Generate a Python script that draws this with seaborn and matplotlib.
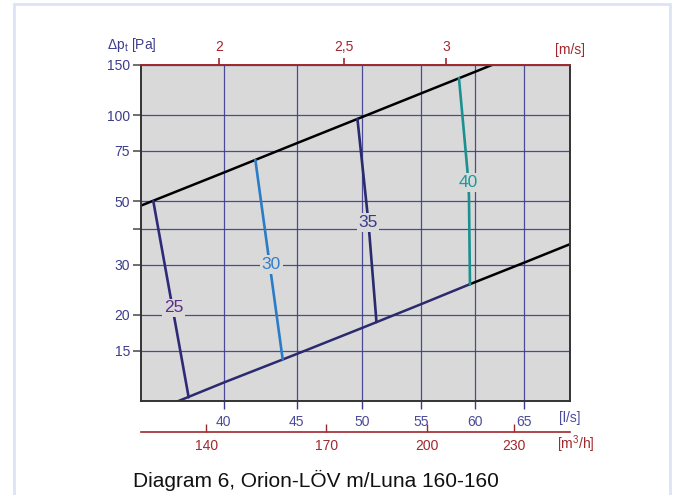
import matplotlib
matplotlib.use('Agg')
import matplotlib.pyplot as plt
from matplotlib.patches import Rectangle
from matplotlib.ticker import NullLocator
import seaborn as sns

sns.set_theme(style='white')
plt.rcParams['font.family'] = ['Liberation Sans', 'DejaVu Sans']
plt.rcParams['mathtext.default'] = 'regular'

# axis ticks
flow_ticks = [40, 45, 50, 55, 60, 65]          # l/s
dp_ticks = [15, 20, 30, 40, 50, 75, 100, 150]   # Pa
dp_labels = ['15', '20', '30', '', '50', '75', '100', '150']
m3h_ticks = [140, 170, 200, 230]                # m3/h
ms_tick_flow = [39.7, 48.6, 57.3]               # where the m/s ticks sit on the l/s scale
ms_labels = ['2', '2,5', '3']

# working range limits
upper_q = [35, 40, 45, 50, 55, 60, 62]
upper_dp = [48.3, 63.0, 79.8, 98.5, 119.2, 141.8, 151.5]
lower_q = [37, 40, 45, 50, 55, 59.5, 65, 70]
lower_dp = [9.9, 11.6, 14.6, 18.0, 21.8, 25.6, 30.5, 35.4]

# sound level lines
iso25_q = [35.7, 37.8]
iso25_dp = [50.1, 10.3]
iso30_q = [42.1, 44.0]
iso30_dp = [69.8, 14.0]
iso35_q = [49.65, 50.54, 51.2]
iso35_dp = [97.1, 42.2, 18.9]
iso40_q = [58.5, 59.3, 59.45, 59.55]
iso40_dp = [135, 64.4, 52.7, 25.6]

iso_names = ['25', '30', '35', '40']
label_q = [36.9, 43.2, 50.5, 59.4]
label_dp = [21.2, 30.0, 42.2, 58.2]

navy = '#3b3b8f'
red = '#a0282c'
txtblue = '#3c3c8c'

fig = plt.figure(figsize=(6.8, 4.95), dpi=100)
ax = fig.add_axes([0.2074, 0.1899, 0.6309, 0.6788])
ax.set_facecolor('#d9d9d9')
ax.set_xscale('log')
ax.set_yscale('log')

sns.lineplot(x=upper_q, y=upper_dp, ax=ax, color='black', lw=1.8, sort=False, estimator=None)
sns.lineplot(x=lower_q[5:], y=lower_dp[5:], ax=ax, color='black', lw=1.8, sort=False, estimator=None)
sns.lineplot(x=lower_q[:6], y=lower_dp[:6], ax=ax, color='#2b2a6e', lw=1.8, sort=False, estimator=None)

sns.lineplot(x=iso25_q, y=iso25_dp, ax=ax, color='#2e2a78', lw=1.9, sort=False, estimator=None)
sns.lineplot(x=iso30_q, y=iso30_dp, ax=ax, color='#2a7cc7', lw=1.9, sort=False, estimator=None)
sns.lineplot(x=iso35_q, y=iso35_dp, ax=ax, color='#2a2a6e', lw=1.9, sort=False, estimator=None)
sns.lineplot(x=iso40_q, y=iso40_dp, ax=ax, color='#1a9090', lw=1.9, sort=False, estimator=None)

lab_colors = ['#5b2d8e', '#2f7fc8', '#3a3a8a', '#1a9a9a']
for i in range(len(iso_names)):
    ax.text(label_q[i], label_dp[i], iso_names[i], ha='center', va='center',
            fontsize=12.5, color=lab_colors[i], zorder=4,
            bbox=dict(facecolor='#d9d9d9', edgecolor='none', pad=1.2))

ax.set_xlim(35, 70)
ax.set_ylim(10, 150)
ax.set_xticks(flow_ticks, labels=[str(t) for t in flow_ticks])
ax.set_yticks(dp_ticks, labels=dp_labels)
ax.xaxis.set_minor_locator(NullLocator())
ax.yaxis.set_minor_locator(NullLocator())
ax.grid(True, which='major', color=navy, lw=0.9, alpha=0.9)
ax.set_xlabel('')
ax.set_ylabel('')

for s in ['left', 'right', 'bottom']:
    ax.spines[s].set_color('#333333')
    ax.spines[s].set_linewidth(1.4)
ax.spines['top'].set_color(red)
ax.spines['top'].set_linewidth(1.4)

ax.tick_params(axis='y', direction='out', length=6, width=1.2, color='#555555',
               labelcolor=txtblue, labelsize=10, pad=2, left=True)
ax.tick_params(axis='x', direction='out', length=6, width=1, color=navy,
               labelcolor='#4a4a9a', labelsize=10, pad=4, bottom=True)

# top axis: velocity
top = ax.secondary_xaxis('top')
top.set_xticks(ms_tick_flow, labels=ms_labels)
top.xaxis.set_minor_locator(NullLocator())
top.spines['top'].set_visible(False)
top.tick_params(axis='x', direction='out', length=5, width=1.2, color=red,
                labelcolor=red, labelsize=10, pad=3)

# second bottom axis: m3/h
bot = ax.secondary_xaxis(-0.092, functions=(lambda q: q * 3.6, lambda m: m / 3.6))
bot.set_xticks(m3h_ticks, labels=[str(t) for t in m3h_ticks])
bot.xaxis.set_minor_locator(NullLocator())
bot.spines['bottom'].set_color(red)
bot.spines['bottom'].set_linewidth(1.2)
bot.tick_params(axis='x', direction='in', length=6, width=1, color=red,
                labelcolor=red, labelsize=10, pad=5)

ax.text(1.0, 1.045, '[m/s]', transform=ax.transAxes, ha='center', va='center',
        color=red, fontsize=10)
ax.text(1.0, -0.052, '[l/s]', transform=ax.transAxes, ha='center', va='center',
        color='#4a4a9a', fontsize=10)
ax.text(1.014, -0.13, '[m$^3$/h]', transform=ax.transAxes, ha='center', va='center',
        color=red, fontsize=10)
ax.text(-0.08, 1.06, r'$\Delta p_t$ [Pa]', transform=ax.transAxes, ha='left', va='center',
        color=txtblue, fontsize=10)

fig.text(133 / 680, 1 - 487 / 495, 'Diagram 6, Orion-LÖV m/Luna 160-160',
         ha='left', va='baseline', fontsize=15, color='#111111')

fig.patches.append(Rectangle((14 / 680, -0.01), 656 / 680, 1.002, transform=fig.transFigure,
                             fill=False, edgecolor='#dce3f5', lw=2))

fig.savefig('out.png', dpi=100)
